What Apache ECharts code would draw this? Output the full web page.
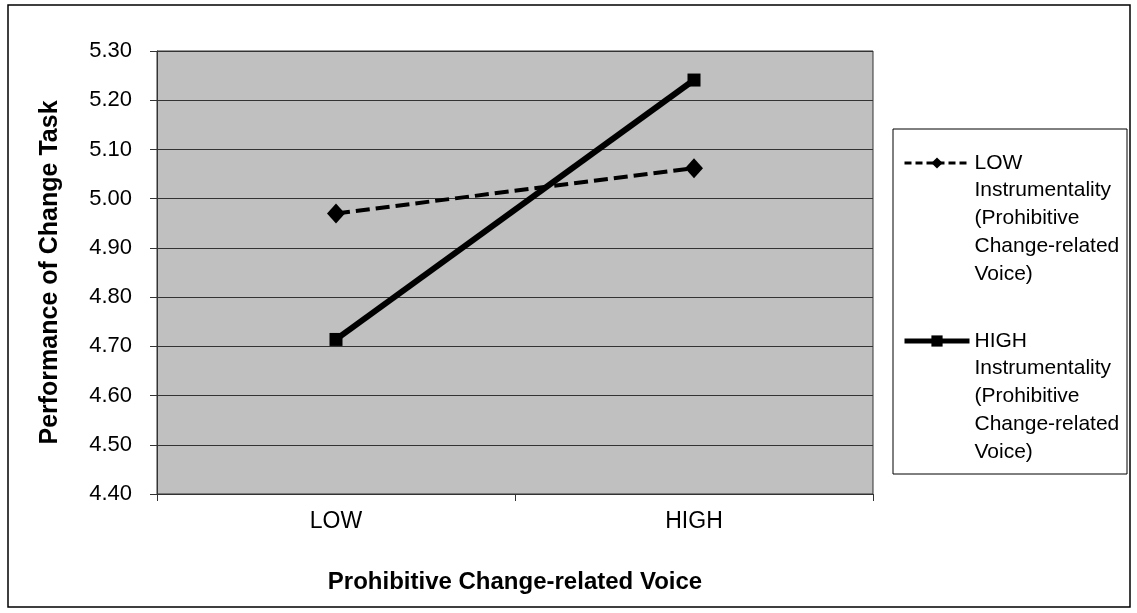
<!DOCTYPE html>
<html>
<head>
<meta charset="utf-8">
<script src="https://cdn.jsdelivr.net/npm/echarts@6/dist/echarts.min.js"></script>
<style>
html,body{margin:0;padding:0;background:#fff;}
#chart{width:1137px;height:613px;}
</style>
</head>
<body>
<div id="chart"></div>
<script>
const categories = ['LOW', 'HIGH'];
const seriesNames = [
  'LOW Instrumentality (Prohibitive Change-related Voice)',
  'HIGH Instrumentality (Prohibitive Change-related Voice)'
];
const legendLines = [
  ['LOW', 'Instrumentality', '(Prohibitive', 'Change-related', 'Voice)'],
  ['HIGH', 'Instrumentality', '(Prohibitive', 'Change-related', 'Voice)']
];
const lowInstrumentality = [4.97, 5.062];
const highInstrumentality = [4.714, 5.241];
const yTicks = [4.40, 4.50, 4.60, 4.70, 4.80, 4.90, 5.00, 5.10, 5.20, 5.30];

const chart = echarts.init(document.getElementById('chart'));
const font = 'Arial, "Liberation Sans", sans-serif';
const LH = 27.7;

function legendText(name) {
  const lines = legendLines[seriesNames.indexOf(name)];
  // pad with blank lines so the first line sits level with the icon
  return '\n\n\n\n' + lines.join('\n');
}

chart.setOption({
  animation: false,
  backgroundColor: '#ffffff',
  graphic: [
    { type: 'rect', shape: { x: 8, y: 5, width: 1122, height: 602 },
      style: { fill: 'none', stroke: '#000', lineWidth: 1.5 }, z: -10 },
    { type: 'rect', shape: { x: 893, y: 129, width: 234, height: 345 },
      style: { fill: '#fff', stroke: '#000', lineWidth: 1 }, z: -5 }
  ],
  grid: {
    left: 157, top: 51, width: 716, height: 443,
    show: true, backgroundColor: '#c0c0c0', borderColor: '#333', borderWidth: 1
  },
  legend: {
    orient: 'vertical',
    left: 902,
    top: 163 - 7 - LH * 4.5 + 7,
    itemWidth: 65,
    itemHeight: 14,
    itemGap: 341 - 163 - LH * 9,
    padding: 0,
    formatter: legendText,
    data: [
      { name: seriesNames[0], lineStyle: { width: 3, type: [7, 4] } },
      { name: seriesNames[1], lineStyle: { width: 5, type: 'solid' } }
    ],
    textStyle: {
      fontFamily: font, fontSize: 21, color: '#000', lineHeight: LH
    }
  },
  xAxis: {
    type: 'category',
    data: categories,
    boundaryGap: true,
    name: 'Prohibitive Change-related Voice',
    nameLocation: 'middle',
    nameGap: 88,
    nameTextStyle: { fontFamily: font, fontSize: 24, fontWeight: 'bold', color: '#000', verticalAlign: 'middle' },
    axisLine: { lineStyle: { color: '#333', width: 1 } },
    axisTick: { show: true, length: 7, lineStyle: { color: '#333' } },
    axisLabel: { fontFamily: font, fontSize: 23, color: '#000', margin: 16 }
  },
  yAxis: {
    type: 'value',
    min: 4.4, max: 5.3, interval: 0.1,
    name: 'Performance of Change Task',
    nameLocation: 'middle',
    nameGap: 94,
    nameTextStyle: { fontFamily: font, fontSize: 25, fontWeight: 'bold', color: '#000' },
    axisLine: { show: true, lineStyle: { color: '#333', width: 1 } },
    axisTick: { show: true, length: 7, lineStyle: { color: '#333' } },
    axisLabel: { fontFamily: font, fontSize: 22, color: '#000', margin: 25,
      formatter: v => { const t = yTicks.find(x => Math.abs(x - v) < 1e-6); return (t !== undefined ? t : v).toFixed(2); } },
    splitLine: { show: true, lineStyle: { color: '#333', width: 1 } }
  },
  series: [
    {
      name: seriesNames[0], type: 'line', data: lowInstrumentality,
      symbol: 'diamond', symbolSize: [18, 20],
      itemStyle: { color: '#000' },
      lineStyle: { color: '#000', width: 4, type: [14, 6] }
    },
    {
      name: seriesNames[1], type: 'line', data: highInstrumentality,
      symbol: 'rect', symbolSize: 13,
      itemStyle: { color: '#000' },
      lineStyle: { color: '#000', width: 6, type: 'solid' }
    }
  ]
});
</script>
</body>
</html>
